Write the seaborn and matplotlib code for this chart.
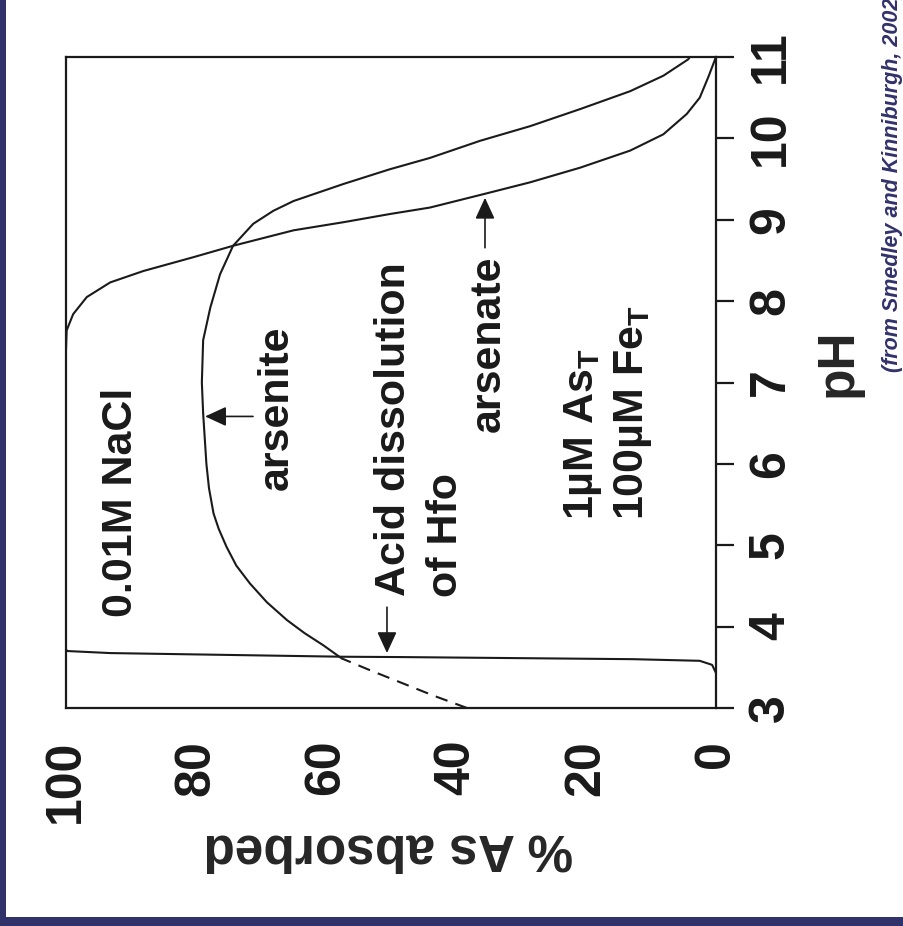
import matplotlib
matplotlib.use('Agg')
import matplotlib.pyplot as plt
import seaborn as sns
from matplotlib.patches import Rectangle

# values (Smedley & Kinniburgh 2002)
# arsenate adsorption on Hfo
arsenate_ph = [7.40, 7.64, 7.84, 8.05, 8.23, 8.37, 8.54, 8.68, 8.87, 8.97,
               9.07, 9.15, 9.32, 9.46, 9.64, 9.85, 10.05, 10.30, 10.50, 10.75,
               10.97, 11.0]
arsenate_pct = [100, 99.9, 98.9, 96.8, 93.2, 88.1, 80.4, 74.3, 65.0, 57.3,
                50.2, 44.0, 35.5, 28.6, 20.9, 13.2, 8.1, 4.5, 2.5, 1.2,
                0.15, 0]

# arsenite adsorption on Hfo
arsenite_ph = [3.61, 3.77, 3.92, 4.08, 4.30, 4.53, 4.75, 4.98, 5.20, 5.39,
               5.70, 6.00, 6.62, 7.00, 7.52, 7.92, 8.33, 8.68, 8.95, 9.11,
               9.23, 9.44, 9.62, 9.76, 9.97, 10.15, 10.36, 10.58, 10.77, 10.97,
               11.0]
arsenite_pct = [57.6, 60.4, 63.3, 66.0, 69.1, 71.7, 73.8, 75.3, 76.5, 77.3,
                78.0, 78.4, 78.9, 79.1, 78.9, 77.8, 76.3, 74.3, 71.2, 68.1,
                65.0, 57.3, 50.2, 44.0, 36.3, 28.6, 20.9, 13.2, 8.1, 4.3,
                4.0]

# arsenite below the Hfo dissolution edge (dashed)
arsenite_low_ph = [3.0, 3.15, 3.31, 3.46, 3.61]
arsenite_low_pct = [38.3, 43.4, 48.4, 53.1, 57.6]

# acid dissolution of Hfo
hfo_ph = [3.43, 3.53, 3.58, 3.60, 3.626, 3.63, 3.675, 3.70, 3.72]
hfo_pct = [0, 0.6, 2.5, 12.8, 48.6, 57.4, 93.2, 99.8, 100]

pct_ticks = [0, 20, 40, 60, 80, 100]
ph_ticks = [3, 4, 5, 6, 7, 8, 9, 10, 11]

navy = '#31326a'

sns.set_theme(style='white')
plt.rcParams['font.family'] = ['Liberation Sans', 'DejaVu Sans']
plt.rcParams['font.weight'] = 'bold'
plt.rcParams['mathtext.fontset'] = 'custom'
plt.rcParams['mathtext.rm'] = 'Liberation Sans:bold'
plt.rcParams['mathtext.bf'] = 'Liberation Sans:bold'

W, H = 904, 926
fig = plt.figure(figsize=(W / 100, H / 100), dpi=100)
fig.patch.set_facecolor('white')

# figure is drawn turned on its side: % on the horizontal, pH on the vertical
ax = fig.add_axes([66 / W, 1 - 708 / H, 650 / W, 651 / H])
ax.set_facecolor('white')

lw = 1.5
sns.lineplot(x=arsenate_pct, y=arsenate_ph, sort=False, estimator=None,
             color='k', lw=lw, ax=ax)
sns.lineplot(x=arsenite_pct, y=arsenite_ph, sort=False, estimator=None,
             color='k', lw=lw, ax=ax)
sns.lineplot(x=arsenite_low_pct, y=arsenite_low_ph, sort=False, estimator=None,
             color='k', lw=lw, linestyle=(0, (6, 4)), ax=ax)
sns.lineplot(x=hfo_pct, y=hfo_ph, sort=False, estimator=None,
             color='k', lw=lw, ax=ax)

ax.set_xlim(100, 0)
ax.set_ylim(3, 11)
ax.set_xticks(pct_ticks)
ax.set_yticks(ph_ticks)
ax.set_xlabel('')
ax.set_ylabel('')
ax.yaxis.tick_right()
for s in ax.spines.values():
    s.set_color('k')
    s.set_linewidth(1.6)
ax.tick_params(axis='both', direction='out', length=13, width=1.6,
               labelsize=36, pad=10, colors='k')
ax.tick_params(axis='x', labelrotation=90)
ax.tick_params(axis='y', labelrotation=90)
plt.setp(ax.get_yticklabels(), va='center')

# axis titles
ax.text((388 - 66) / 650, (708 - 835) / 651, '% As absorbed', transform=ax.transAxes,
        rotation=180, rotation_mode='anchor', ha='center', va='baseline',
        fontsize=37, fontweight='bold')
ax.text((852 - 66) / 650, (708 - 363) / 651, 'pH', transform=ax.transAxes,
        rotation=90, rotation_mode='anchor', ha='center', va='baseline',
        fontsize=37, fontweight='bold', clip_on=False)

# annotations
tkw = dict(rotation=90, rotation_mode='anchor', ha='left', va='baseline',
           fontsize=31, fontweight='bold', color='k')
ax.text(89.85, 4.117, '0.01M NaCl', **tkw)
ax.text(65.85, 5.675, 'arsenite', **tkw)
ax.text(47.85, 4.374, 'Acid dissolution', **tkw)
ax.text(39.85, 4.36, 'of Hfo', **tkw)
ax.text(33.2, 6.387, 'arsenate', **tkw)
ax.text(18.9, 5.307, '1\u00b5M As$_\\mathrm{T}$', **tkw)
ax.text(11.2, 5.307, '100\u00b5M Fe$_\\mathrm{T}$', **tkw)

akw = dict(arrowstyle='-|>,head_length=0.65,head_width=0.3', color='k',
           lw=1.2, mutation_scale=20, shrinkA=0, shrinkB=0)
ax.annotate('', xy=(78.6, 6.583), xytext=(71.23, 6.583), arrowprops=akw)
ax.annotate('', xy=(50.62, 3.675), xytext=(50.62, 4.239), arrowprops=akw)
ax.annotate('', xy=(35.54, 9.27), xytext=(35.54, 8.656), arrowprops=akw)

# citation (runs off the top edge as in the original) and navy frame
fig.text(898 / W, 1 - 372 / H, '(from Smedley and Kinniburgh, 2002)',
         rotation=90, rotation_mode='anchor', ha='left', va='baseline',
         fontsize=15.5, fontweight='bold', fontstyle='italic', color=navy)
fig.add_artist(Rectangle((0, 0), 6 / W, 1, transform=fig.transFigure,
                         facecolor=navy, edgecolor='none'))
fig.add_artist(Rectangle((0, 0), 1, 9 / H, transform=fig.transFigure,
                         facecolor=navy, edgecolor='none'))

fig.savefig('out.png', dpi=100)
